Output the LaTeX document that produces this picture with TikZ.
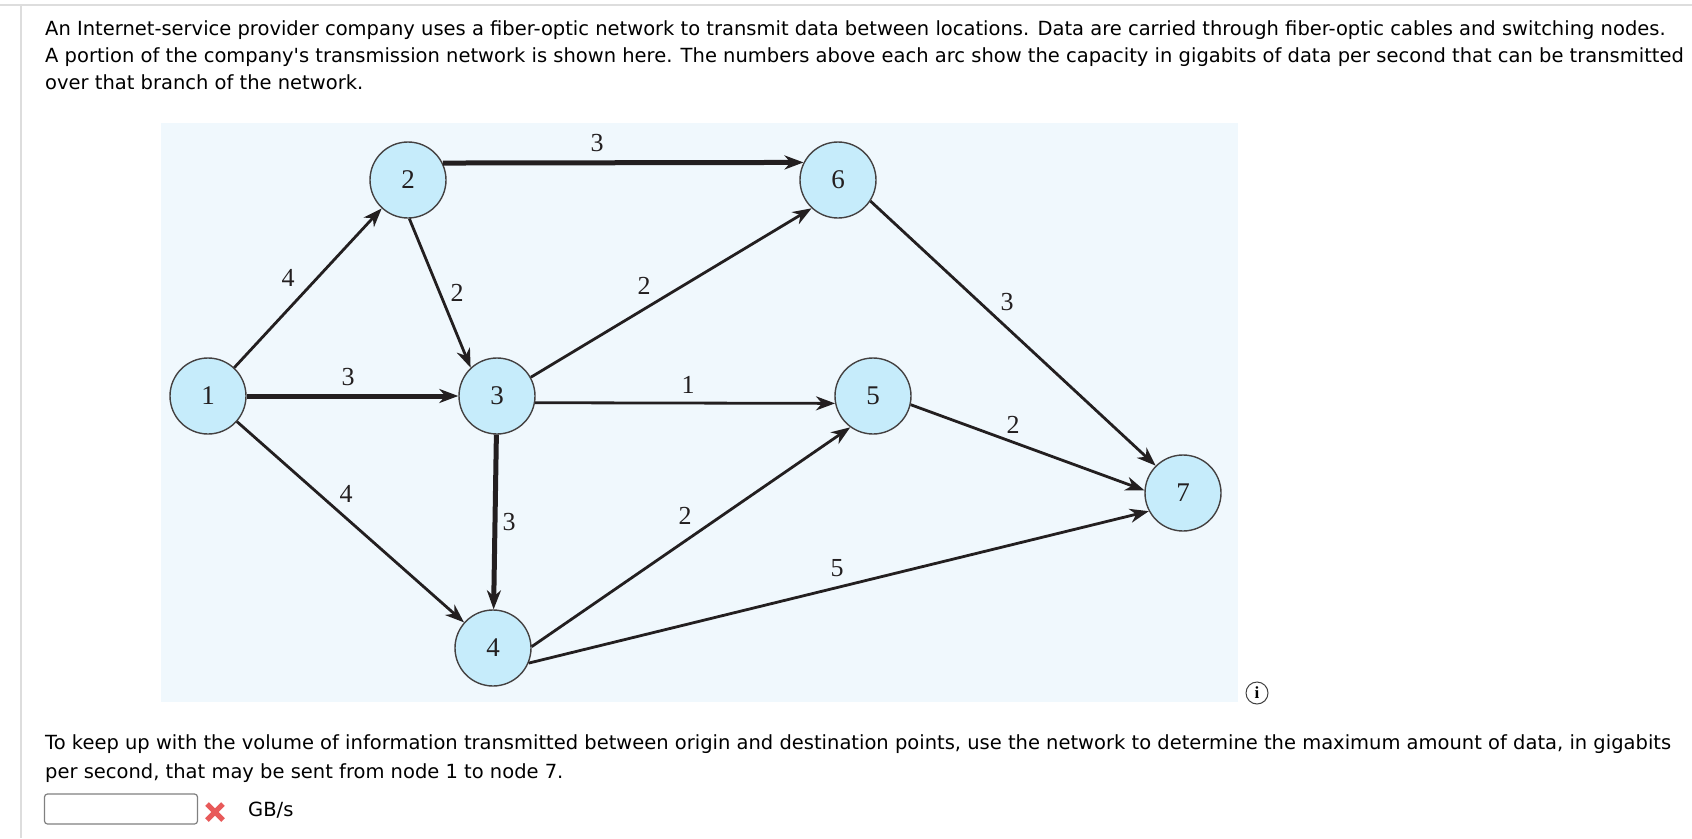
\documentclass[tikz,border=0pt]{standalone}
\usepackage{fontspec}
\setmainfont{DejaVu Sans}[Ligatures=TeXOff]
\newfontfamily\numfont{Liberation Serif}
\usetikzlibrary{arrows.meta}
\definecolor{bgblue}{HTML}{F0F8FD}
\definecolor{nodeblue}{HTML}{C6ECFB}
\definecolor{edgecol}{HTML}{231F20}
\definecolor{rulegray}{HTML}{DDDDDD}
\definecolor{xred}{HTML}{E85A5A}
\begin{document}
\begin{tikzpicture}[x=1pt,y=-1pt,
  txt/.style={anchor=base west,inner sep=0pt,font=\fontsize{19.5}{24}\selectfont},
  netnode/.style={circle,minimum size=76pt,inner sep=0pt,fill=nodeblue,draw=edgecol!85,line width=1.4pt,font=\numfont\fontsize{27}{27}\selectfont,text=edgecol},
  edge/.style={draw=edgecol,line width=2.8pt,-{Stealth[length=19pt,width=14pt,inset=6pt]}},
  thickedge/.style={edge,line width=5pt},
  lbl/.style={inner sep=0pt,font=\numfont\fontsize{26}{26}\selectfont,text=edgecol}
]
\useasboundingbox (0,0) rectangle (1692,838);
\fill[white] (0,0) rectangle (1692,838);
% page rules
\draw[rulegray,line width=2pt] (0,5) -- (1692,5);
\draw[rulegray,line width=1.4pt] (21,5) -- (21,838);
% top text
\node[txt] (t1) at (45,35) {An Internet-service provider company uses a fiber-optic network to transmit data between locations. Data are carried through fiber-optic cables and switching nodes.};
\node[txt] (t2) at (45,62.5) {A portion of the company\textquotesingle s transmission network is shown here. The numbers above each arc show the capacity in gigabits of data per second that can be transmitted};
\node[txt] (t3) at (45,89.5) {over that branch of the network.};
% diagram background
\fill[bgblue] (161,122.5) rectangle (1238,701.5);
% nodes
\node[netnode] (n1) at (208,396) {1};
\node[netnode] (n2) at (408,180) {2};
\node[netnode] (n3) at (497,396) {3};
\node[netnode] (n4) at (493,648) {4};
\node[netnode] (n5) at (873,396) {5};
\node[netnode] (n6) at (838,180) {6};
\node[netnode] (n7) at (1183,493) {7};
% edges
\draw[edge] (n1) -- (n2);
\draw[thickedge] (n2.26.6) -- (n6.153.4);
\draw[edge] (n2.-88) -- (n3.133);
\draw[thickedge] (n1) -- (n3);
\draw[edge] (n1) -- (n4);
\draw[edge] (n3.29) -- (n6.227);
\draw[edge] (n3.-10.6) -- (n5.-169.4);
\draw[thickedge] (n3) -- (n4);
\draw[edge] (n4.2) -- (n5.234);
\draw[edge] (n4.-23) -- (n7.208);
\draw[edge] (n6.-33) -- (n7.135);
\draw[edge] (n5.-13) -- (n7.176);
% labels
\node[lbl] (l12) at (288,278) {4};
\node[lbl] (l23) at (457,293) {2};
\node[lbl] (l13) at (348,377) {3};
\node[lbl] (l26) at (597,143) {3};
\node[lbl] (l36) at (644,286) {2};
\node[lbl] (l35) at (688,385) {1};
\node[lbl] (l34) at (509,522) {3};
\node[lbl] (l45) at (685,516) {2};
\node[lbl] (l47) at (837,568) {5};
\node[lbl] (l67) at (1007,302) {3};
\node[lbl] (l57) at (1013,425) {2};
\node[lbl] (l14) at (346,494) {4};
% info icon
\node[circle,draw=black!75,line width=1pt,minimum size=22pt,inner sep=0pt,font=\numfont\bfseries\fontsize{17}{17}\selectfont] (info) at (1257,693) {i};
% bottom text
\node[txt] (b1) at (45,749.5) {To keep up with the volume of information transmitted between origin and destination points, use the network to determine the maximum amount of data, in gigabits};
\node[txt] (b2) at (45,778.5) {per second, that may be sent from node 1 to node 7.};
% answer box
\draw[black!50,line width=1.2pt,rounded corners=3pt] (44.5,794) rectangle (197.5,824);
\draw[xred,line width=5pt] (207,804) -- (223,820);
\draw[xred,line width=5pt] (223,804) -- (207,820);
\node[txt] (unit) at (248,816) {GB/s};
\end{tikzpicture}
\end{document}
